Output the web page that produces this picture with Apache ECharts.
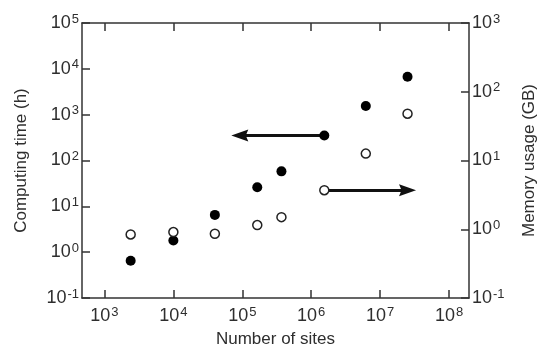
<!DOCTYPE html>
<html>
<head>
<meta charset="utf-8">
<script src="https://cdn.jsdelivr.net/npm/echarts@6/dist/echarts.min.js"></script>
<style>
  html, body { margin: 0; padding: 0; background: #fff; }
  #chart { width: 538px; height: 348px; }
</style>
</head>
<body>
<div id="chart"></div>
<script>
// values (raw units, plotted on log10 axes)
const sites = [2.4e3, 1.0e4, 4.0e4, 1.65e5, 3.7e5, 1.55e6, 6.2e6, 2.5e7];
const computingTime = [0.65, 1.8, 6.5, 26, 58, 350, 1550, 6700];   // h, left axis
const memoryUsage = [0.84, 0.91, 0.86, 1.15, 1.5, 3.7, 12.6, 48];  // GB, right axis

// tick decades (exponents)
const xTicks = [3, 4, 5, 6, 7, 8];
const xRange = [2.674, 8.29];
const timeRange = [-1, 5];
const memRange = [-1, 3];

// arrow annotations: start at the 6th point, arrowhead centred at these x values
const timeArrowEndX = 9.2e4;
const memArrowEndX = 2.5e7;

const lg = Math.log10;
const FONT = '"Liberation Sans", Arial, sans-serif';
const TXT = '#2e2e2e';
const AX = '#333';
const ARROW = 'path://M10,0 L20,34 L10,29 L0,34 Z';

const supLabel = (margin, extra) => Object.assign({
  margin, fontFamily: FONT, fontSize: 18, color: TXT,
  formatter: v => '{b|10}{s|' + Math.round(v) + '}',
  rich: {
    b: { fontSize: 18, fontFamily: FONT, color: TXT },
    s: { fontSize: 13, fontFamily: FONT, color: TXT, verticalAlign: 'top', padding: [0, 0, 8, 1] }
  }
}, extra || {});
const axisLine = () => ({ show: true, onZero: false, lineStyle: { color: AX, width: 1.5 } });
const tick = extra => Object.assign({ show: true, inside: true, length: 8, lineStyle: { color: AX, width: 1.5 } }, extra || {});

const timeData = sites.map((s, i) => [lg(s), lg(computingTime[i])]);
const memData = sites.map((s, i) => [lg(s), lg(memoryUsage[i])]);

const chart = echarts.init(document.getElementById('chart'));
chart.setOption({
  animation: false,
  backgroundColor: '#fff',
  grid: { left: 82, right: 69, top: 23, bottom: 50, outerBoundsMode: 'none' },
  xAxis: [
    {
      type: 'value', min: xRange[0], max: xRange[1], position: 'bottom',
      name: 'Number of sites', nameLocation: 'middle', nameGap: 32,
      nameTextStyle: { fontFamily: FONT, fontSize: 17, color: TXT },
      axisLine: axisLine(), axisTick: tick({ customValues: xTicks }),
      axisLabel: supLabel(8, { customValues: xTicks }),
      splitLine: { show: false }
    },
    {
      type: 'value', min: xRange[0], max: xRange[1], position: 'top',
      axisLine: axisLine(), axisTick: tick({ customValues: xTicks }),
      axisLabel: { show: false }, splitLine: { show: false }
    }
  ],
  yAxis: [
    {
      type: 'value', min: timeRange[0], max: timeRange[1], interval: 1, position: 'left',
      name: 'Computing time (h)', nameLocation: 'middle', nameGap: 52,
      nameTextStyle: { fontFamily: FONT, fontSize: 17, color: TXT },
      axisLine: axisLine(), axisTick: tick(),
      axisLabel: supLabel(3),
      splitLine: { show: false }
    },
    {
      type: 'value', min: memRange[0], max: memRange[1], interval: 1, position: 'right',
      name: 'Memory usage (GB)', nameLocation: 'middle', nameGap: 52,
      nameTextStyle: { fontFamily: FONT, fontSize: 17, color: TXT },
      axisLine: axisLine(), axisTick: tick(),
      axisLabel: supLabel(3),
      splitLine: { show: false }
    }
  ],
  series: [
    {
      name: 'Computing time', type: 'scatter', xAxisIndex: 0, yAxisIndex: 0,
      data: timeData, symbol: 'circle', symbolSize: 10,
      itemStyle: { color: '#000', opacity: 1 }, z: 5,
      markLine: {
        silent: true, symbol: ['none', ARROW], symbolSize: [12, 17],
        label: { show: false },
        lineStyle: { color: '#111', width: 3, type: 'solid' },
        data: [[{ coord: timeData[5] }, { coord: [lg(timeArrowEndX), timeData[5][1]] }]]
      }
    },
    {
      name: 'Memory usage', type: 'scatter', xAxisIndex: 0, yAxisIndex: 1,
      data: memData, symbol: 'circle', symbolSize: 9,
      itemStyle: { color: '#fff', borderColor: '#222', borderWidth: 1.5, opacity: 1 }, z: 6,
      markLine: {
        silent: true, symbol: ['none', ARROW], symbolSize: [12, 17],
        label: { show: false },
        lineStyle: { color: '#111', width: 3, type: 'solid' },
        data: [[{ coord: memData[5] }, { coord: [lg(memArrowEndX), memData[5][1]] }]]
      }
    }
  ]
});
</script>
</body>
</html>
